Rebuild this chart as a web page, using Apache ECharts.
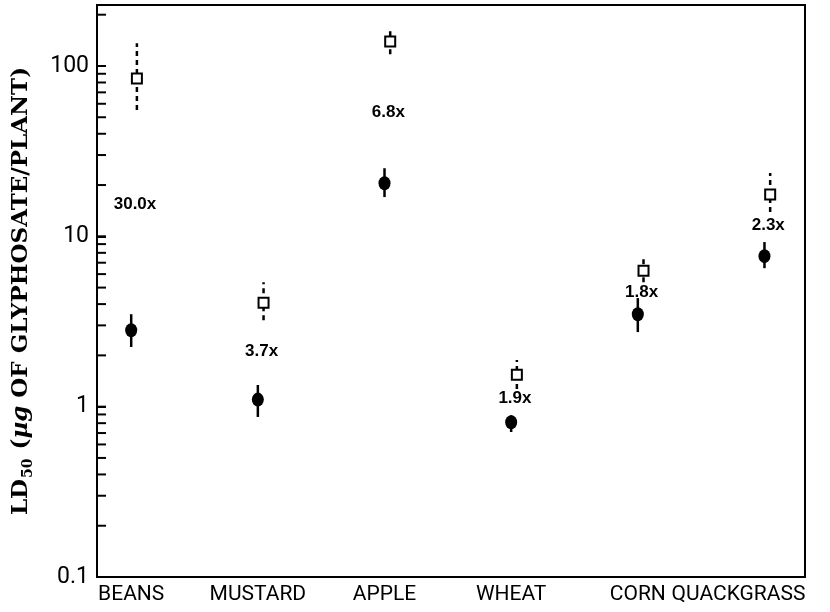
<!DOCTYPE html>
<html>
<head>
<meta charset="utf-8">
<title>LD50 of glyphosate by plant species</title>
<script src="https://cdn.jsdelivr.net/npm/echarts@6/dist/echarts.min.js"></script>
<style>
  html, body { margin: 0; padding: 0; background: #fff; }
  #chart { width: 830px; height: 612px; }
</style>
</head>
<body>
<div id="chart"></div>
<script>
// Plant species along the x axis
const categories = ['BEANS', 'MUSTARD', 'APPLE', 'WHEAT', 'CORN', 'QUACKGRASS'];

// Filled circles: LD50 with error-bar limits (µg glyphosate / plant)
const filledValues = [2.81, 1.1, 20.5, 0.81, 3.49, 7.65];
const filledLow    = [2.24, 0.87, 17.0, 0.71, 2.74, 6.50];
const filledHigh   = [3.49, 1.34, 25.1, 0.89, 4.34, 9.25];

// Open squares: LD50 with dashed error-bar limits
const openValues = [84.3, 4.07, 139, 1.54, 6.28, 17.6];
const openLow    = [55.1, 3.22, 117, 1.27, 5.38, 13.9];
const openHigh   = [136, 5.38, 169, 1.88, 7.35, 23.5];

// Fold-difference annotations between the two series
const ratioLabels = ['30.0x', '3.7x', '6.8x', '1.9x', '1.8x', '2.3x'];

// Labels of the decade ticks on the log axis
const yTickValues = [0.1, 1, 10, 100];
const yTickLabels = ['0.1', '1', '10', '100'];

const chart = echarts.init(document.getElementById('chart'), null, { renderer: 'canvas' });

const X_MIN = -0.27, X_MAX = 5.32;
const openShift = 0.045;   // squares sit just right of the circles
const tickFont = 'Roboto, "Liberation Sans", sans-serif';
const titleFont = '"DejaVu Serif", "Liberation Serif", serif';

// major (1) and minor (2..9) log ticks of every decade inside the y range
const logTickValues = [];
for (let e = -1; e <= 2; e++) {
  for (let m = 1; m <= 9; m++) logTickValues.push(m * Math.pow(10, e));
}

function errorBarItem(dashed) {
  return function (params, api) {
    const x = api.value(0);
    const p1 = api.coord([x, api.value(1)]);
    const p2 = api.coord([x, api.value(2)]);
    return {
      type: 'line',
      shape: { x1: p1[0], y1: p1[1], x2: p2[0], y2: p2[1] },
      style: {
        stroke: '#000',
        lineWidth: 2.5,
        lineDash: dashed ? [5, 4] : null
      }
    };
  };
}

const option = {
  backgroundColor: '#fff',
  animation: false,
  grid: {
    left: 97, right: 25, top: 5, bottom: 35,
    show: true,
    borderColor: '#000',
    borderWidth: 2,
    outerBoundsMode: 'none'
  },
  xAxis: {
    type: 'value',
    min: X_MIN,
    max: X_MAX,
    axisLine: { show: true, onZero: false, lineStyle: { color: '#000', width: 2 } },
    axisTick: { show: false },
    splitLine: { show: false },
    axisLabel: {
      customValues: categories.map((c, i) => i),
      color: '#000',
      fontFamily: tickFont,
      fontSize: 21,
      margin: 7,
      formatter: function (v) {
        const i = Math.round(v);
        const name = categories[i] || '';
        return i === categories.length - 1 ? '{last|' + name + '}' : name;
      },
      rich: {
        last: {
          fontFamily: tickFont,
          fontSize: 21,
          color: '#000',
          padding: [0, 52, 0, 0]
        }
      }
    }
  },
  yAxis: {
    type: 'log',
    logBase: 10,
    min: 0.1,
    max: 228,
    axisLine: { show: true, onZero: false, lineStyle: { color: '#000', width: 2 } },
    axisTick: { show: true, inside: true, length: 9, lineStyle: { color: '#000', width: 2 } },
    splitLine: { show: false },
    axisLabel: {
      customValues: yTickValues,
      color: '#000',
      fontFamily: tickFont,
      fontSize: 23,
      margin: 8,
      formatter: function (v) {
        const i = yTickValues.findIndex(t => Math.abs(Math.log10(t) - Math.log10(v)) < 1e-6);
        return i >= 0 ? yTickLabels[i] : '';
      }
    },
    name: '{a|LD}{s|50}{a| (}{mu|µg}{a| OF GLYPHOSATE/PLANT)}',
    nameLocation: 'middle',
    nameGap: 62,
    nameTextStyle: {
      rich: {
        a: { fontFamily: titleFont, fontWeight: 'bold', fontSize: 23, color: '#000', lineHeight: 28 },
        s: { fontFamily: titleFont, fontWeight: 'bold', fontSize: 14, color: '#000', verticalAlign: 'bottom', lineHeight: 28, padding: [0, 1, 0, 1] },
        mu: { fontFamily: titleFont, fontWeight: 'bold', fontStyle: 'italic', fontSize: 23, color: '#000', lineHeight: 28 }
      }
    }
  },
  series: [
    {
      // all log ticks (decades and 2..9) drawn as one group along the y axis
      type: 'custom',
      silent: true,
      clip: false,
      data: [[1, 1]],
      renderItem: function (params, api) {
        const left = params.coordSys.x;
        const children = logTickValues.map(function (v) {
          const y = api.coord([1, v])[1];
          return {
            type: 'line',
            shape: { x1: left, y1: y, x2: left + 9, y2: y },
            style: { stroke: '#000', lineWidth: 2 }
          };
        });
        return { type: 'group', children: children };
      },
      z: 10
    },
    {
      type: 'custom',
      silent: true,
      data: categories.map((c, i) => [i, filledLow[i], filledHigh[i]]),
      renderItem: errorBarItem(false),
      z: 2
    },
    {
      type: 'custom',
      silent: true,
      data: categories.map((c, i) => [i + openShift, openLow[i], openHigh[i]]),
      renderItem: errorBarItem(true),
      z: 2
    },
    {
      type: 'scatter',
      silent: true,
      symbol: 'circle',
      symbolSize: [12, 14],
      itemStyle: { color: '#000', opacity: 1 },
      data: categories.map((c, i) => [i, filledValues[i]]),
      z: 3
    },
    {
      type: 'scatter',
      silent: true,
      symbol: 'rect',
      symbolSize: 10,
      itemStyle: { color: '#fff', borderColor: '#000', borderWidth: 2, opacity: 1 },
      data: categories.map((c, i) => [i + openShift, openValues[i]]),
      z: 3
    },
    {
      // fold-difference labels halfway (in log space) between the two marks
      type: 'scatter',
      silent: true,
      symbolSize: 0,
      itemStyle: { opacity: 1, color: '#000' },
      data: categories.map((c, i) => [i + 0.03, Math.sqrt(filledValues[i] * openValues[i])]),
      label: {
        show: true,
        position: 'inside',
        color: '#000',
        opacity: 1,
        textBorderWidth: 0,
        fontFamily: '"Liberation Sans", Arial, sans-serif',
        fontWeight: 'bold',
        fontSize: 17,
        formatter: function (p) { return ratioLabels[p.dataIndex]; }
      },
      z: 4
    }
  ]
};

chart.setOption(option);
</script>
</body>
</html>
